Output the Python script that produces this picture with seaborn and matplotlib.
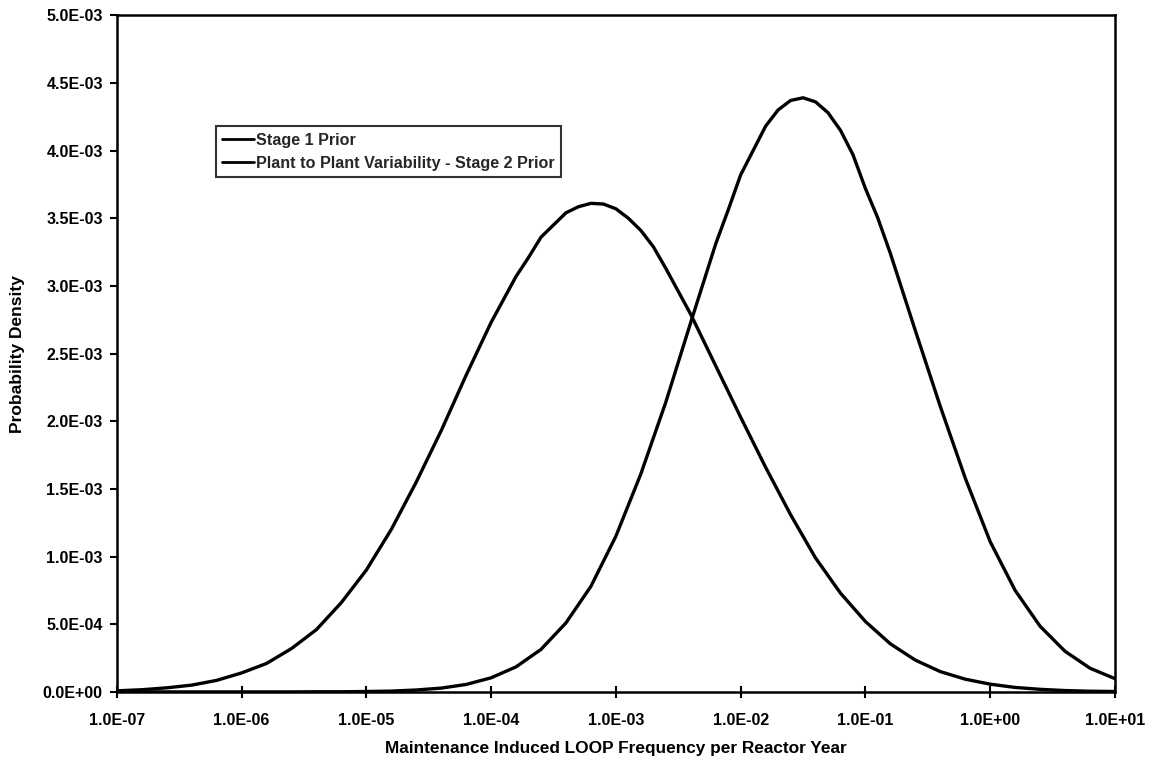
import numpy as np
import pandas as pd
import matplotlib
matplotlib.use("Agg")
import matplotlib.pyplot as plt
from matplotlib.ticker import FuncFormatter, FixedLocator
import seaborn as sns

# x positions as log10 of frequency (per reactor year), one list per curve
stage1_logx = [-7.0, -6.8, -6.6, -6.4, -6.2, -6.0, -5.8, -5.6, -5.4, -5.2,
               -5.0, -4.8, -4.6, -4.4, -4.2, -4.0, -3.8, -3.7, -3.6, -3.5,
               -3.4, -3.3, -3.2, -3.1, -3.0, -2.9, -2.8, -2.7, -2.6, -2.4,
               -2.2, -2.0, -1.8, -1.6, -1.4, -1.2, -1.0, -0.8, -0.6, -0.4,
               -0.2, 0.0, 0.2, 0.4, 0.6, 0.8, 1.0]
# probability density, in units of 1E-03
stage1 = [0.008, 0.016, 0.03, 0.05, 0.085, 0.14, 0.21, 0.32, 0.46, 0.66,
          0.90, 1.20, 1.55, 1.93, 2.34, 2.73, 3.07, 3.21, 3.36, 3.45,
          3.54, 3.585, 3.61, 3.605, 3.57, 3.50, 3.41, 3.29, 3.13, 2.79,
          2.41, 2.03, 1.66, 1.31, 0.99, 0.73, 0.52, 0.355, 0.235, 0.15,
          0.094, 0.057, 0.033, 0.019, 0.010, 0.005, 0.003]

stage2_logx = [-7.0, -6.5, -6.0, -5.6, -5.4, -5.2, -5.0, -4.8, -4.6, -4.4,
               -4.2, -4.0, -3.8, -3.6, -3.4, -3.2, -3.0, -2.8, -2.6, -2.4,
               -2.2, -2.1, -2.0, -1.9, -1.8, -1.7, -1.6, -1.5, -1.4, -1.3,
               -1.2, -1.1, -1.0, -0.9, -0.8, -0.6, -0.4, -0.2, 0.0, 0.2,
               0.4, 0.6, 0.8, 1.0]
stage2 = [0.0, 0.0, 0.0, 0.0, 0.001, 0.001, 0.003, 0.006, 0.014, 0.028,
          0.055, 0.104, 0.185, 0.314, 0.51, 0.78, 1.15, 1.61, 2.14, 2.73,
          3.31, 3.56, 3.82, 4.00, 4.18, 4.30, 4.37, 4.39, 4.36, 4.28,
          4.15, 3.97, 3.72, 3.50, 3.24, 2.67, 2.11, 1.58, 1.11, 0.75,
          0.485, 0.30, 0.175, 0.098]

series_names = ["Stage 1 Prior", "Plant to Plant Variability - Stage 2 Prior"]
x_ticks = [1e-7, 1e-6, 1e-5, 1e-4, 1e-3, 1e-2, 1e-1, 1e0, 1e1]
y_ticks = [0.0, 5e-4, 1e-3, 1.5e-3, 2e-3, 2.5e-3, 3e-3, 3.5e-3, 4e-3, 4.5e-3, 5e-3]

df = pd.concat([
    pd.DataFrame({"freq": 10.0 ** np.array(stage1_logx),
                  "density": np.array(stage1) * 1e-3, "series": series_names[0]}),
    pd.DataFrame({"freq": 10.0 ** np.array(stage2_logx),
                  "density": np.array(stage2) * 1e-3, "series": series_names[1]}),
])

sns.set_theme(style="white")
plt.rcParams["font.family"] = ["Liberation Sans", "DejaVu Sans"]
plt.rcParams["font.weight"] = "bold"

fig = plt.figure(figsize=(11.56, 7.62), dpi=100)
ax = fig.add_axes([0.101, 0.092, 0.8635, 0.888])

sns.lineplot(data=df, x="freq", y="density", hue="series", hue_order=series_names,
             palette=["black", "black"], linewidth=2.4, estimator=None, ax=ax)
for ln in ax.get_lines():
    ln.set_solid_joinstyle("round")

ax.set_xscale("log")
ax.set_xlim(1e-7, 1e1)
ax.set_ylim(0, 5e-3)
ax.xaxis.set_major_locator(FixedLocator(x_ticks))
ax.xaxis.set_minor_locator(FixedLocator([]))
ax.yaxis.set_major_locator(FixedLocator(y_ticks))
fmt = FuncFormatter(lambda v, pos: f"{v:.1E}")
ax.xaxis.set_major_formatter(fmt)
ax.yaxis.set_major_formatter(fmt)

ax.tick_params(axis="y", direction="out", length=5, width=1.5, pad=5,
               labelsize=11.5, colors="black", left=True)
ax.tick_params(axis="x", direction="inout", length=8, width=1.5, pad=11,
               labelsize=11.5, colors="black", bottom=True)
for lbl in ax.get_xticklabels() + ax.get_yticklabels():
    lbl.set_fontweight("bold")

for sp in ax.spines.values():
    sp.set_visible(True)
    sp.set_color("black")
    sp.set_linewidth(1.8)

ax.set_xlabel("Maintenance Induced LOOP Frequency per Reactor Year",
              fontsize=12.4, fontweight="bold", color="black")
ax.set_ylabel("Probability Density", fontsize=12.5, fontweight="bold", color="black")
ax.xaxis.label.set_va("center")
ax.yaxis.label.set_va("center")
ax.xaxis.set_label_coords(0.5, -0.083)
ax.yaxis.set_label_coords(-0.099, 0.5)

handles, labels = ax.get_legend_handles_labels()
leg = ax.legend(handles, labels, loc="upper left", bbox_to_anchor=(0.099, 0.836),
                borderaxespad=0, frameon=True, fancybox=False, shadow=False,
                handlelength=2.0, handletextpad=0.1, borderpad=0.4,
                labelspacing=0.5, prop={"size": 11.6, "weight": "bold"})
leg.get_frame().set_edgecolor("black")
leg.get_frame().set_linewidth(1.5)
for line in leg.get_lines():
    line.set_linewidth(2.0)

fig.savefig("out.png", dpi=100, facecolor="white")
